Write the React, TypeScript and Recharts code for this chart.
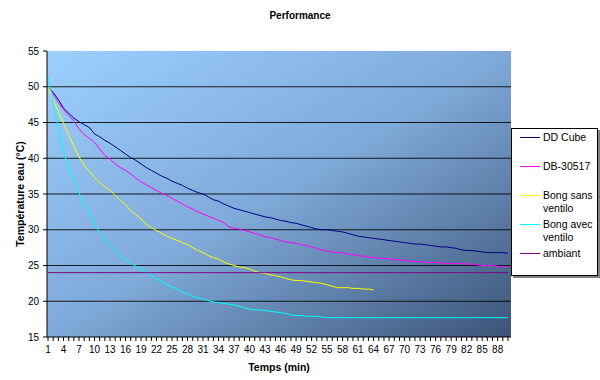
import React from 'react'
import { LineChart, Line, XAxis, YAxis, CartesianGrid } from 'recharts'

// minutes 1..90
const minutes = Array.from({ length: 90 }, (_, i) => i + 1)

const ddCube = [
  50.0, 49.2, 48.2, 47.0, 46.3, 45.6, 45.1, 44.7, 44.3, 43.4,
  43.0, 42.5, 42.1, 41.6, 41.1, 40.6, 40.1, 39.7, 39.2, 38.7,
  38.3, 37.9, 37.5, 37.2, 36.8, 36.5, 36.2, 35.8, 35.5, 35.2,
  35.0, 34.6, 34.2, 34.0, 33.6, 33.3, 33.0, 32.8, 32.6, 32.4,
  32.2, 32.0, 31.8, 31.7, 31.5, 31.3, 31.2, 31.0, 30.9, 30.7,
  30.5, 30.3, 30.1, 30.0, 30.0, 29.9, 29.8, 29.7, 29.5, 29.3,
  29.1, 29.0, 28.9, 28.8, 28.7, 28.6, 28.5, 28.4, 28.3, 28.2,
  28.1, 28.0, 28.0, 27.9, 27.8, 27.7, 27.6, 27.6, 27.5, 27.4,
  27.2, 27.1, 27.1, 27.0, 26.9, 26.8, 26.8, 26.8, 26.8, 26.7,
]

const db30517 = [
  50.0, 49.0, 47.8, 46.8, 46.0, 45.2, 44.1, 43.3, 42.8, 42.2,
  41.3, 40.4, 39.9, 39.2, 38.7, 38.3, 37.8, 37.2, 36.7, 36.3,
  35.9, 35.5, 35.1, 34.8, 34.4, 34.0, 33.6, 33.2, 32.9, 32.5,
  32.2, 31.9, 31.6, 31.3, 31.0, 30.4, 30.2, 30.1, 29.9, 29.7,
  29.5, 29.3, 29.0, 28.9, 28.7, 28.5, 28.3, 28.2, 28.1, 27.9,
  27.8, 27.6, 27.4, 27.2, 27.0, 26.9, 26.8, 26.8, 26.6, 26.5,
  26.4, 26.3, 26.2, 26.1, 26.0, 26.0, 25.9, 25.8, 25.8, 25.7,
  25.6, 25.6, 25.5, 25.5, 25.4, 25.4, 25.4, 25.3, 25.3, 25.3,
  25.3, 25.2, 25.2, 25.1, 25.0, 25.0, 25.0, 24.9, 24.8, 24.8,
]

// stops at minute 64
const bongSans = [
  50.0, 48.2, 46.5, 44.9, 43.3, 41.7, 40.2, 39.0, 38.2, 37.3,
  36.6, 36.0, 35.5, 34.8, 34.1, 33.5, 32.7, 32.1, 31.5, 30.8,
  30.3, 29.9, 29.5, 29.1, 28.8, 28.5, 28.2, 27.9, 27.5, 27.1,
  26.8, 26.4, 26.1, 25.9, 25.5, 25.2, 25.0, 24.8, 24.7, 24.5,
  24.2, 24.0, 23.9, 23.7, 23.6, 23.4, 23.2, 23.0, 22.9, 22.9,
  22.8, 22.7, 22.6, 22.5, 22.3, 22.1, 21.9, 21.9, 21.9, 21.8,
  21.8, 21.7, 21.7, 21.6,
]

const bongAvec = [
  51.4, 48.0, 44.2, 40.8, 38.6, 37.0, 35.2, 33.5, 32.3, 30.7,
  29.6, 28.7, 27.9, 27.0, 26.4, 25.8, 25.3, 24.9, 24.5, 24.0,
  23.6, 23.1, 22.8, 22.3, 22.0, 21.7, 21.3, 21.0, 20.7, 20.5,
  20.3, 20.1, 19.9, 19.8, 19.7, 19.6, 19.5, 19.3, 19.1, 18.9,
  18.8, 18.8, 18.7, 18.6, 18.5, 18.4, 18.3, 18.1, 18.0, 18.0,
  17.9, 17.9, 17.9, 17.8, 17.7, 17.7, 17.7, 17.7, 17.7, 17.7,
  17.7, 17.7, 17.7, 17.7, 17.7, 17.7, 17.7, 17.7, 17.7, 17.7,
  17.7, 17.7, 17.7, 17.7, 17.7, 17.7, 17.7, 17.7, 17.7, 17.7,
  17.7, 17.7, 17.7, 17.7, 17.7, 17.7, 17.7, 17.7, 17.7, 17.7,
]

const ambiant = [
  24, 24, 24, 24, 24, 24, 24, 24, 24, 24,
  24, 24, 24, 24, 24, 24, 24, 24, 24, 24,
  24, 24, 24, 24, 24, 24, 24, 24, 24, 24,
  24, 24, 24, 24, 24, 24, 24, 24, 24, 24,
  24, 24, 24, 24, 24, 24, 24, 24, 24, 24,
  24, 24, 24, 24, 24, 24, 24, 24, 24, 24,
  24, 24, 24, 24, 24, 24, 24, 24, 24, 24,
  24, 24, 24, 24, 24, 24, 24, 24, 24, 24,
  24, 24, 24, 24, 24, 24, 24, 24, 24, 24,
]

const yTicks = [15, 20, 25, 30, 35, 40, 45, 50, 55]
// inner gridlines only (Excel leaves the top edge without a black line)
const gridValues = [20, 25, 30, 35, 40, 45, 50]

const series = [
  { key: 'ddCube', label: ['DD Cube'], color: '#000080' },
  { key: 'db30517', label: ['DB-30517'], color: '#ff00ff' },
  { key: 'bongSans', label: ['Bong sans', 'ventilo'], color: '#ffff00' },
  { key: 'bongAvec', label: ['Bong avec', 'ventilo'], color: '#00ffff' },
  { key: 'ambiant', label: ['ambiant'], color: '#800080' },
]

const rows = minutes.map((t, i) => ({
  t,
  ddCube: ddCube[i],
  db30517: db30517[i],
  bongSans: i < bongSans.length ? bongSans[i] : null,
  bongAvec: bongAvec[i],
  ambiant: ambiant[i],
}))

const FONT = '"Liberation Sans", Arial, sans-serif'

const XTick = (props: any) => {
  const { x, y, payload, index } = props
  if (index % 3 !== 0) return null
  return (
    <text x={x} y={y} dy="0.71em" textAnchor="middle" fontSize={10} fill="#000" fontFamily={FONT}>
      {payload.value}
    </text>
  )
}

const gridY = (args: any) => {
  const scale = args?.yAxis?.scale
  if (scale && typeof scale === 'function') return gridValues.map((v) => scale(v))
  const { offset } = args
  return gridValues.map((v) => offset.top + (offset.height * (55 - v)) / 40)
}

const ChartLegend = () => (
  <div
    style={{
      position: 'absolute',
      left: 511,
      top: 128,
      width: 85,
      height: 146,
      background: '#fff',
      border: '1px solid #000',
      boxShadow: '2px 2px 0 #808080',
      fontFamily: FONT,
      fontSize: 10.5,
      color: '#000',
    }}
  >
    {series.map((s, i) => (
      <div key={s.key} style={{ position: 'absolute', left: 0, top: 2 + i * 29, width: 85 }}>
        <div style={{ position: 'absolute', left: 8, top: 6, width: 20, height: 1, background: s.color }} />
        <div style={{ position: 'absolute', left: 31, top: 0, lineHeight: '13px', whiteSpace: 'nowrap' }}>
          {s.label.map((l) => (
            <div key={l}>{l}</div>
          ))}
        </div>
      </div>
    ))}
  </div>
)

export default function App() {
  return (
    <div style={{ position: 'relative', width: 600, height: 380, background: '#fff', fontFamily: FONT }}>
      <style>{'body{margin:0}'}</style>
      <LineChart width={600} height={380} data={rows} margin={{ top: 51, right: 89, bottom: 0, left: 0 }}>
        <defs>
          <linearGradient id="plotBg" x1="0" y1="0" x2="1" y2="1">
            <stop offset="0%" stopColor="#9ccfff" />
            <stop offset="50%" stopColor="#7fa9d8" />
            <stop offset="100%" stopColor="#3b5477" />
          </linearGradient>
        </defs>
        <CartesianGrid
          vertical={false}
          stroke="#000"
          strokeOpacity={0.85}
          fill="url(#plotBg)"
          fillOpacity={1}
          horizontalCoordinatesGenerator={gridY}
        />
        <XAxis
          dataKey="t"
          interval={0}
          height={43}
          tickSize={4}
          tickMargin={5}
          tick={<XTick />}
          stroke="#000"
          padding={{ left: 1, right: 3 }}
        />
        <YAxis
          domain={[15, 55]}
          ticks={yTicks}
          width={47}
          tickSize={4}
          tickMargin={4}
          stroke="#000"
          tick={{ fontSize: 10, fill: '#000', fontFamily: FONT }}
          interval={0}
        />
        {series.map((s) => (
          <Line
            key={s.key}
            type="linear"
            dataKey={s.key}
            stroke={s.color}
            strokeWidth={1}
            dot={false}
            activeDot={false}
            isAnimationActive={false}
            connectNulls={false}
          />
        ))}
      </LineChart>
      <div style={{ position: 'absolute', left: 0, top: 10, width: 600, textAlign: 'center', fontSize: 10, fontWeight: 'bold' }}>
        Performance
      </div>
      <div style={{ position: 'absolute', left: 229, top: 361, width: 100, textAlign: 'center', fontSize: 10.5, fontWeight: 'bold' }}>
        Temps (min)
      </div>
      <div
        style={{
          position: 'absolute',
          left: 20,
          top: 194,
          transform: 'translate(-50%, -50%) rotate(-90deg)',
          whiteSpace: 'nowrap',
          fontSize: 10.5,
          fontWeight: 'bold',
        }}
      >
        Température eau (°C)
      </div>
      <ChartLegend />
    </div>
  )
}
